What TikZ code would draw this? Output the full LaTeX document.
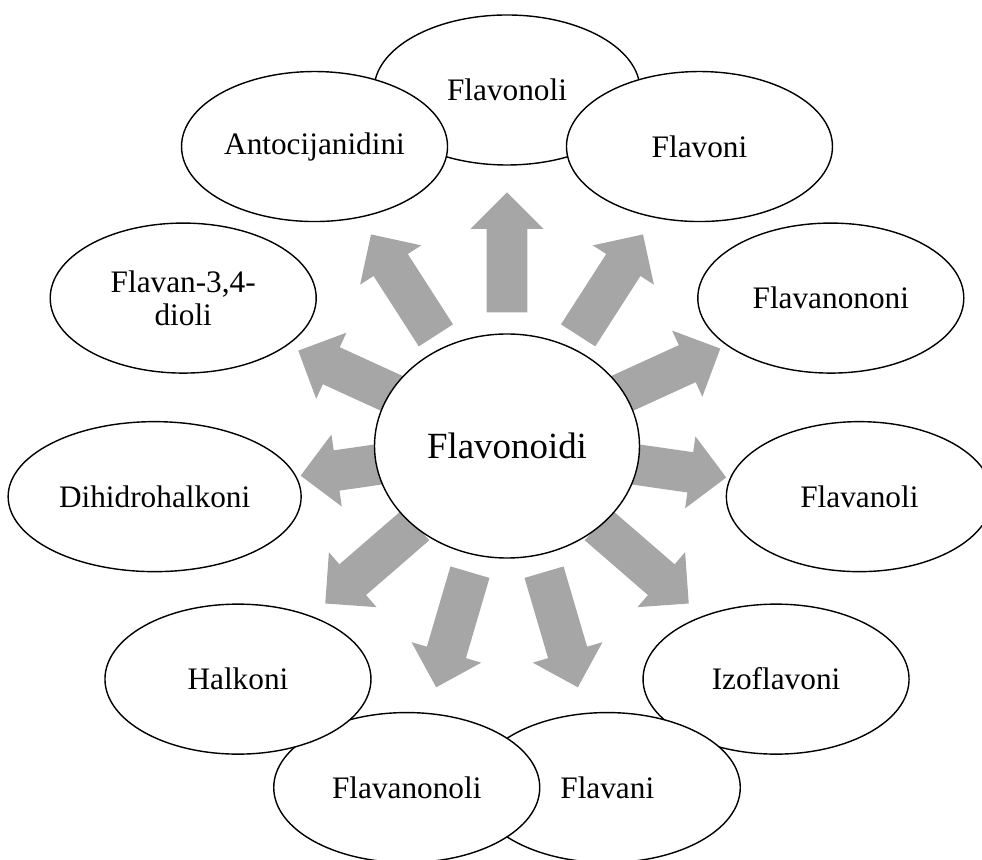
\documentclass[tikz,border=0pt]{standalone}
\usepackage{fontspec}
\setmainfont{Liberation Serif}
\usepackage{xcolor}
\usepackage{tikz}
\usetikzlibrary{calc}
\usetikzlibrary{shapes.geometric}
\usetikzlibrary{shapes.arrows}
\definecolor{arrowgray}{RGB}{166,166,166}
\tikzset{
	subgroup/.style={ellipse, draw=black, fill=white, line width=0.8pt, inner sep=0pt,
		minimum width=5.32cm, minimum height=3cm, align=center,
		font=\fontsize{17.8}{19}\selectfont},
	maingroup/.style={ellipse, draw=black, fill=white, line width=0.8pt, inner sep=0pt,
		minimum width=5.3cm, minimum height=4.48cm, font=\fontsize{21}{25}\selectfont},
	bigarrow/.style={single arrow, fill=arrowgray, draw=none, inner xsep=0pt, inner ysep=0.4cm,
		minimum height=2.4cm, minimum width=0pt, single arrow head extend=0.32cm, anchor=tip},
}
\begin{document}
\begin{tikzpicture}
	\useasboundingbox (0, 0) rectangle (19.64, 17.18);
	
	\coordinate (mid) at (10.14, 8.26);
	
	% arrows, behind the circle
	\node[bigarrow, rotate=90] (a1) at ($(mid)+(90:5.08)$) {};
	\node[bigarrow, rotate=57.27] (a2) at ($(mid)+(57.27:5.04)$) {};
	\node[bigarrow, rotate=24.55] (a3) at ($(mid)+(24.55:4.70)$) {};
	\node[bigarrow, rotate=-8.18] (a4) at ($(mid)+(-8.18:4.44)$) {};
	\node[bigarrow, rotate=-40.91] (a5) at ($(mid)+(-40.91:4.82)$) {};
	\node[bigarrow, rotate=-73.64] (a6) at ($(mid)+(-73.64:5.04)$) {};
	\node[bigarrow, rotate=-106.36] (a7) at ($(mid)+(-106.36:5.04)$) {};
	\node[bigarrow, rotate=-139.09] (a8) at ($(mid)+(-139.09:4.82)$) {};
	\node[bigarrow, rotate=-171.82] (a9) at ($(mid)+(-171.82:4.18)$) {};
	\node[bigarrow, rotate=155.45] (a10) at ($(mid)+(155.45:4.60)$) {};
	\node[bigarrow, rotate=122.73] (a11) at ($(mid)+(122.73:5.04)$) {};
	
	\node[maingroup] (flavonoidi) at (mid) {Flavonoidi};
	
	% outer ring, clockwise from the top
	\node[subgroup] (flavonoli) at ($(mid)+(90:7.12)$) {Flavonoli};
	\node[subgroup] (flavoni) at ($(mid)+(57.27:7.12)$) {Flavoni};
	\node[subgroup] (flavanononi) at ($(mid)+(24.55:7.12)$) {Flavanononi};
	\node[subgroup] (flavanoli) at ($(mid)+(-8.18:7.12)$) {Flavanoli};
	\node[subgroup] (izoflavoni) at ($(mid)+(-40.91:7.12)$) {Izoflavoni};
	\node[subgroup] (flavani) at ($(mid)+(-73.64:7.12)$) {Flavani};
	\node[subgroup] (flavanonoli) at ($(mid)+(-106.36:7.12)$) {Flavanonoli};
	\node[subgroup] (halkoni) at ($(mid)+(-139.09:7.12)$) {Halkoni};
	\node[subgroup, minimum width=5.86cm] (dihidrohalkoni) at ($(mid)+(-171.82:7.12)$) {Dihidrohalkoni};
	\node[subgroup] (flavandioli) at ($(mid)+(155.45:7.12)$) {Flavan-3,4-\\dioli};
	\node[subgroup] (antocijanidini) at ($(mid)+(122.73:7.12)$) {Antocijanidini};
	
\end{tikzpicture}
\end{document}
